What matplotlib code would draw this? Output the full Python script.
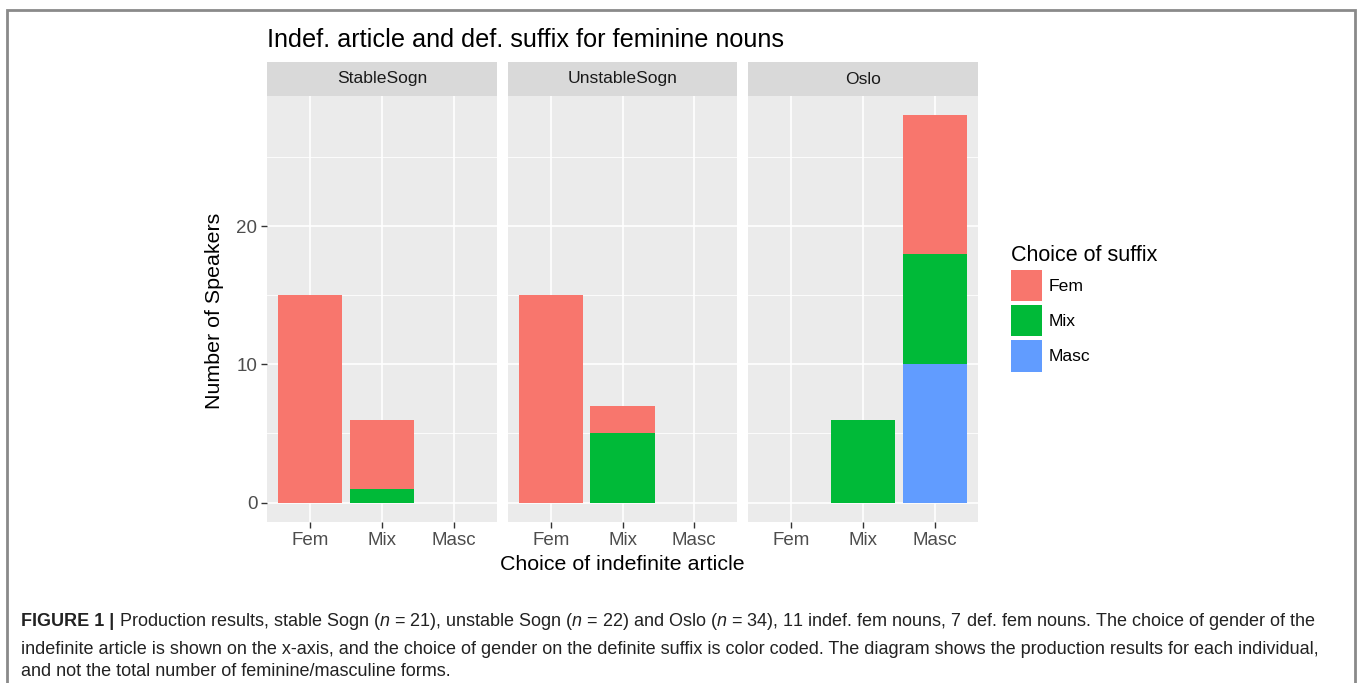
import numpy as np
import matplotlib
matplotlib.use("Agg")
import matplotlib.pyplot as plt
from matplotlib.patches import Rectangle, Patch

plt.rcParams['font.family'] = ['Liberation Sans', 'DejaVu Sans']
plt.rcParams['mathtext.fontset'] = 'custom'
plt.rcParams['mathtext.rm'] = 'Liberation Sans'
plt.rcParams['mathtext.it'] = 'Liberation Sans:italic'

# data: counts per panel, article category, suffix
panels = ["StableSogn", "UnstableSogn", "Oslo"]
articles = ["Fem", "Mix", "Masc"]
suffixes = ["Fem", "Mix", "Masc"]
colors = {"Fem": "#F8766D", "Mix": "#00BA38", "Masc": "#619CFF"}

# values per article (Fem, Mix, Masc) for each suffix
stable_fem = [15, 5, 0]
stable_mix = [0, 1, 0]
stable_masc = [0, 0, 0]
unstable_fem = [15, 2, 0]
unstable_mix = [0, 5, 0]
unstable_masc = [0, 0, 0]
oslo_fem = [0, 0, 10]
oslo_mix = [0, 6, 8]
oslo_masc = [0, 0, 10]

data = [
    {"Fem": stable_fem, "Mix": stable_mix, "Masc": stable_masc},
    {"Fem": unstable_fem, "Mix": unstable_mix, "Masc": unstable_masc},
    {"Fem": oslo_fem, "Mix": oslo_mix, "Masc": oslo_masc},
]

W, H = 1357, 683
fig = plt.figure(figsize=(W / 100, H / 100), dpi=100)


def fx(px):
    return px / W


def fy(py):
    return 1 - py / H


# outer border
fig.add_artist(Rectangle((fx(7), fy(700)), fx(1348), (700 - 10) / H, transform=fig.transFigure,
                         fill=False, edgecolor="#8a8a8a", linewidth=2))

panel_x = [(267, 497), (508, 737), (748, 978)]
ptop, pbot, stop = 96, 522, 62
tick_col = "#4D4D4D"

for i, (x0, x1) in enumerate(panel_x):
    ax = fig.add_axes([fx(x0), fy(pbot), fx(x1 - x0), (pbot - ptop) / H])
    ax.set_facecolor("#EBEBEB")
    for s in ax.spines.values():
        s.set_visible(False)
    ax.set_xlim(0.4, 3.6)
    ax.set_ylim(-1.4, 29.4)
    ax.set_yticks([0, 10, 20])
    ax.set_yticks([5, 15, 25], minor=True)
    ax.set_xticks([1, 2, 3])
    ax.set_xticklabels(articles)
    ax.grid(True, which="major", color="white", linewidth=1.2)
    ax.grid(True, which="minor", axis="y", color="white", linewidth=0.6)
    ax.set_axisbelow(True)
    ax.tick_params(axis="x", length=4, width=1, color="#333333", labelsize=13.5, labelcolor=tick_col, pad=3)
    ax.tick_params(axis="y", which="major", length=4, width=1, color="#333333", labelsize=13.5,
                   labelcolor=tick_col, pad=3)
    ax.tick_params(axis="y", which="minor", length=0)
    if i > 0:
        ax.tick_params(axis="y", which="major", length=0, labelleft=False)
    x = np.arange(1, 4)
    bottom = np.zeros(3)
    for suf in ["Masc", "Mix", "Fem"]:
        vals = np.array(data[i][suf], dtype=float)
        ax.bar(x, vals, width=0.9, bottom=bottom, color=colors[suf], linewidth=0)
        bottom += vals
    # strip
    fig.add_artist(Rectangle((fx(x0), fy(ptop)), fx(x1 - x0), (ptop - stop) / H,
                             transform=fig.transFigure, facecolor="#D9D9D9", edgecolor="none"))
    fig.text(fx((x0 + x1) / 2), fy((ptop + stop) / 2), panels[i], ha="center", va="center",
             fontsize=12.6, color="#1A1A1A")

fig.text(fx(267), fy(40), "Indef. article and def. suffix for feminine nouns", ha="left", va="center",
         fontsize=18.2, color="black")
fig.text(fx(214), fy((ptop + pbot) / 2 + 2), "Number of Speakers", rotation=90, ha="center", va="center",
         fontsize=15.4, color="black")
fig.text(fx(622), fy(565), "Choice of indefinite article", ha="center", va="center",
         fontsize=15.4, color="black")

handles = [Patch(facecolor=colors[s], edgecolor="none", label=s) for s in suffixes]
leg = fig.legend(handles=handles, loc="upper left", bbox_to_anchor=(fx(1006), fy(240)),
                 title="Choice of suffix", fontsize=12.6, title_fontsize=15.5, frameon=False,
                 handlelength=1.75, handleheight=2.4, labelspacing=0.2, handletextpad=0.4,
                 borderaxespad=0, borderpad=0.3)
leg._legend_box.align = "left"

# caption
cap_col = "#222222"
fs_cap = 12.95
bold = fig.text(fx(21), fy(622), "FIGURE 1 |", ha="left", va="center", fontsize=fs_cap,
                fontweight="bold", color=cap_col)
fig.canvas.draw()
bb = bold.get_window_extent()
fig.text(bb.x1 / W + fx(5), fy(622),
         r"Production results, stable Sogn ($n$ = 21), unstable Sogn ($n$ = 22) and Oslo ($n$ = 34), "
         r"11 indef. fem nouns, 7 def. fem nouns. The choice of gender of the",
         ha="left", va="center", fontsize=fs_cap, color=cap_col)
fig.text(fx(21), fy(649),
         "indefinite article is shown on the x-axis, and the choice of gender on the definite suffix is "
         "color coded. The diagram shows the production results for each individual,",
         ha="left", va="center", fontsize=fs_cap, color=cap_col)
fig.text(fx(21), fy(671), "and not the total number of feminine/masculine forms.",
         ha="left", va="center", fontsize=fs_cap, color=cap_col)

fig.savefig("out.png", dpi=100)
